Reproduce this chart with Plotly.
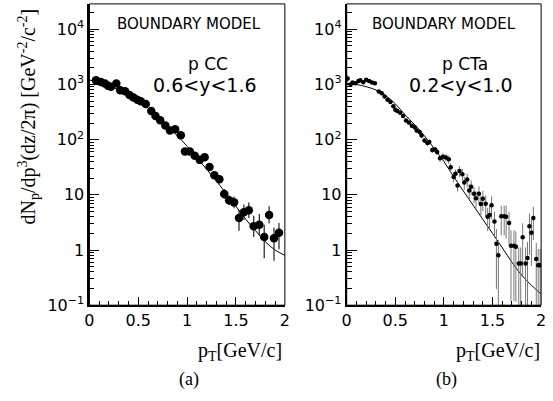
import plotly.graph_objects as go

# ---------------- data: panel (a) p CC ----------------
a_pt = [0.067, 0.118, 0.158, 0.19, 0.22, 0.275, 0.315, 0.365, 0.41, 0.45,
        0.49, 0.525, 0.576, 0.633, 0.676, 0.724, 0.777, 0.824, 0.877, 0.935,
        0.978, 1.028, 1.078, 1.129, 1.179, 1.229, 1.279, 1.33, 1.38, 1.43,
        1.48, 1.531, 1.581, 1.631, 1.681, 1.739, 1.789, 1.839, 1.889, 1.94]
a_val = [1190, 1107, 1040, 950, 910, 1040, 783, 753, 647, 582,
         528, 495, 444, 330, 269, 225, 180, 146, 155, 120,
         61, 61, 51, 43, 48, 32, 22.6, 19.2, 10.4, 7.96,
         7.3, 3.79, 4.83, 5.25, 2.69, 2.88, 1.72, 4.33, 1.63, 2.06]
a_err_hi = [0, 0, 0, 0, 0, 0, 0, 0, 0, 0,
            0, 0, 0, 0, 0, 0, 0, 0, 0, 0,
            5, 5, 5, 4.5, 5, 4.5, 3.5, 3, 2.3, 1.8,
            2.0, 1.5, 1.85, 2.0, 1.5, 1.6, 1.16, 1.9, 0.91, 1.03]
a_err_lo = [0, 0, 0, 0, 0, 0, 0, 0, 0, 0,
            0, 0, 0, 0, 0, 0, 0, 0, 0, 0,
            5, 5, 5, 4.5, 5, 4.5, 3.5, 3, 1.9, 1.5,
            1.6, 1.55, 1.34, 1.45, 0.97, 1.0, 1.01, 1.3, 0.99, 1.03]
a_curve_pt = [0.0, 0.1, 0.2, 0.3, 0.4, 0.5, 0.6, 0.7, 0.8, 0.9, 1.0,
              1.1, 1.2, 1.3, 1.4, 1.5, 1.6, 1.7, 1.8, 1.9, 2.0]
a_curve = [1200, 1100, 955, 795, 645, 500, 372, 263, 178, 117, 76,
           47, 29, 17.8, 10.5, 6.2, 3.6, 2.24, 1.41, 1.0, 0.8]

# ---------------- data: panel (b) p CTa ----------------
b_pt = [0.01, 0.04, 0.06, 0.09, 0.12, 0.14, 0.17, 0.2, 0.23, 0.26, 0.29,
        0.33, 0.36, 0.39, 0.42, 0.45, 0.48, 0.50, 0.52, 0.55, 0.58,
        0.61, 0.64, 0.67, 0.70, 0.72, 0.75, 0.77, 0.80, 0.83, 0.85,
        0.88, 0.91, 0.93, 0.96, 0.99, 1.02, 1.05, 1.07, 1.10, 1.12,
        1.14, 1.16, 1.19, 1.21, 1.24, 1.26, 1.28, 1.31, 1.33, 1.36,
        1.38, 1.40, 1.43, 1.45, 1.47, 1.49, 1.52, 1.54, 1.56, 1.59,
        1.62, 1.64, 1.67, 1.69, 1.72, 1.74, 1.77, 1.79, 1.81, 1.84,
        1.86, 1.88, 1.90, 1.92, 1.95, 1.97, 1.99]
b_val = [1280, 1000, 1080, 1050, 1150, 1190, 1100, 1220, 1150, 1080, 1050,
         743, 693, 606, 528, 481, 405, 348, 330, 308, 269,
         223, 205, 179, 167, 146, 137, 119, 97, 87, 91,
         65, 66, 60, 46, 49, 47.5, 44, 31.6, 21, 24,
         14.8, 27, 23.5, 16.7, 19, 12, 14, 10.5, 8.7, 10.5,
         6.8, 8.5, 6.9, 4.0, 4.3, 6.5, 3.3, 1.3, 0.8, 4.1,
         4.1, 4.0, 3.1, 1.2, 1.2, 1.15, 0.57, 0.57, 1.7, 0.57,
         0.72, 2.7, 2.05, 3.8, 0.69, 0.53, 0.53]
b_err_rel = [0.15, 0.05, 0.05, 0.05, 0.05, 0.05, 0.05, 0.05, 0.05, 0.05, 0.05,
             0.05, 0.05, 0.05, 0.06, 0.06, 0.06, 0.06, 0.07, 0.07, 0.07,
             0.08, 0.08, 0.08, 0.09, 0.09, 0.1, 0.1, 0.1, 0.11, 0.11,
             0.12, 0.12, 0.13, 0.14, 0.15, 0.16, 0.17, 0.18, 0.2, 0.2,
             0.22, 0.22, 0.24, 0.26, 0.28, 0.3, 0.3, 0.32, 0.35, 0.35,
             0.4, 0.4, 0.42, 0.45, 0.45, 0.45, 0.5, 0.85, 0.9, 0.55,
             0.55, 0.6, 0.6, 0.9, 0.9, 0.9, 0.95, 0.95, 0.8, 0.95,
             0.95, 0.7, 0.75, 0.6, 0.95, 0.97, 0.97]
b_curve_pt = [0.0, 0.1, 0.2, 0.3, 0.4, 0.5, 0.6, 0.7, 0.8, 0.9, 1.0,
              1.1, 1.2, 1.3, 1.4, 1.5, 1.6, 1.7, 1.8, 1.9, 2.0]
b_curve = [1047, 1000, 912, 794, 631, 447, 282, 186, 117, 69, 40,
           21.4, 11.7, 6.5, 3.6, 2.0, 1.1, 0.6, 0.35, 0.23, 0.16]

y_tickvals = [0.1, 1, 10, 100, 1000, 10000]
y_ticktext = ["10<sup>\u22121</sup>", "1", "10", "10<sup>2</sup>", "10<sup>3</sup>", "10<sup>4</sup>"]

W, H = 553, 401
def px_x(p):
    return p / W
def px_y(p):
    return 1 - p / H

fig = go.Figure()

fig.add_trace(go.Scatter(x=a_curve_pt, y=a_curve, mode="lines", line=dict(color="black", width=1, shape="spline"),
                         xaxis="x", yaxis="y", showlegend=False))
fig.add_trace(go.Scatter(x=a_pt, y=a_val, mode="markers",
                         marker=dict(color="black", size=8.5),
                         error_y=dict(type="data", symmetric=False, array=a_err_hi, arrayminus=a_err_lo,
                                      color="#333", thickness=1.3, width=0),
                         xaxis="x", yaxis="y", showlegend=False))

b_err = [v * r for v, r in zip(b_val, b_err_rel)]
fig.add_trace(go.Scatter(x=b_curve_pt, y=b_curve, mode="lines", line=dict(color="black", width=1, shape="spline"),
                         xaxis="x2", yaxis="y2", showlegend=False))
fig.add_trace(go.Scatter(x=b_pt, y=b_val, mode="markers",
                         marker=dict(color="black", size=4.5),
                         error_y=dict(type="data", symmetric=False, array=b_err, arrayminus=b_err,
                                      color="#777", thickness=1, width=0),
                         xaxis="x2", yaxis="y2", showlegend=False))

tickfont = dict(family="DejaVu Sans", size=16, color="black")

def xax(domain, anchor):
    return dict(domain=domain, anchor=anchor, range=[0, 2], dtick=0.5, tick0=0,
                ticks="inside", ticklen=8, tickwidth=1, tickcolor="black",
                minor=dict(dtick=0.1, ticks="inside", ticklen=4, tickcolor="black"),
                showline=True, linewidth=2, linecolor="black", showgrid=False, zeroline=False,
                tickfont=tickfont)

def yax(domain, anchor):
    return dict(domain=domain, anchor=anchor, type="log", range=[-1, 4.46],
                tickvals=y_tickvals, ticktext=y_ticktext,
                ticks="inside", ticklen=10, tickwidth=1, tickcolor="black",
                minor=dict(ticks="inside", ticklen=5, tickcolor="black", dtick="D1"),
                showline=True, linewidth=2, linecolor="black", showgrid=False, zeroline=False,
                tickfont=tickfont)

xa_dom = [px_x(86), px_x(285)]
xb_dom = [px_x(348), px_x(546)]
y_dom = [px_y(313), px_y(4)]

def ann(text, x, y, size, family="DejaVu Sans", xanchor="center", yanchor="middle", angle=0):
    return dict(text=text, x=px_x(x), y=px_y(y), xref="paper", yref="paper",
                showarrow=False, xanchor=xanchor, yanchor=yanchor, textangle=angle,
                font=dict(family=family, size=size, color="black"))

annotations = [
    ann("BOUNDARY MODEL", 187, 25, 15),
    ann("p CC", 207, 66, 17),
    ann("0.6&lt;y&lt;1.6", 204, 87, 19),
    ann("BOUNDARY MODEL", 447, 25, 15),
    ann("p CTa", 468, 66, 17),
    ann("0.2&lt;y&lt;1.0", 464, 87, 19),
    ann("dN<sub>p</sub>/dp<sup>3</sup>(dz/2\u03c0) [GeV<sup>-2</sup>/c<sup>-2</sup>]", 24, 120, 20,
        family="Liberation Serif", angle=-90),
    ann("p<sub>T</sub>[GeV/c]", 284, 360, 20, family="Liberation Serif", xanchor="right"),
    ann("p<sub>T</sub>[GeV/c]", 547, 360, 20, family="Liberation Serif", xanchor="right"),
    ann("(a)", 187, 389, 18, family="Liberation Serif"),
    ann("(b)", 450, 389, 18, family="Liberation Serif"),
]

shapes = [
    dict(type="rect", xref="paper", yref="paper", x0=xa_dom[0], x1=xa_dom[1], y0=y_dom[0], y1=y_dom[1],
         line=dict(color="black", width=1)),
    dict(type="rect", xref="paper", yref="paper", x0=xb_dom[0], x1=xb_dom[1], y0=y_dom[0], y1=y_dom[1],
         line=dict(color="black", width=1)),
]

fig.update_layout(
    width=W, height=H, margin=dict(l=0, r=0, t=0, b=0),
    paper_bgcolor="white", plot_bgcolor="white",
    xaxis=xax(xa_dom, "y"), yaxis=yax(y_dom, "x"),
    xaxis2=xax(xb_dom, "y2"), yaxis2=yax(y_dom, "x2"),
    annotations=annotations, shapes=shapes,
)

fig.write_html("out.html")
